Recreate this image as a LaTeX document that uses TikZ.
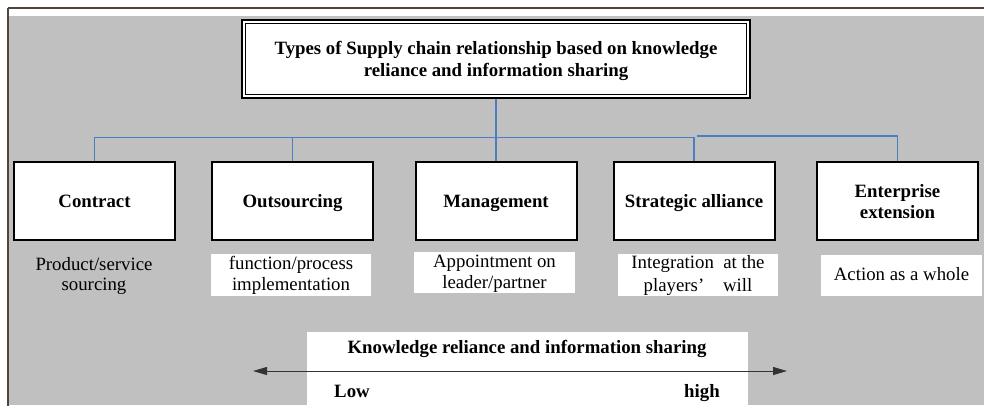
\documentclass[tikz,border=0pt]{standalone}
\usepackage{fontspec}
\setmainfont{Liberation Serif}
\usetikzlibrary{arrows.meta}
\definecolor{bggray}{RGB}{192,192,192}
\definecolor{frameline}{RGB}{78,68,62}
\definecolor{busblue}{RGB}{74,126,196}
\tikzset{
  rg/.style={font=\fontsize{18.8}{22}\selectfont, anchor=base, inner sep=0pt},
  bd/.style={font=\fontsize{18.8}{22}\selectfont\bfseries, anchor=base, inner sep=0pt},
  typebox/.style={draw=black, line width=2pt, fill=white, minimum width=161pt, minimum height=78pt, inner sep=0pt},
  descbox/.style={fill=white, inner sep=0pt},
  bus/.style={draw=busblue, line width=1.4pt},
  axis/.style={draw=black!80, line width=1pt, {Triangle[length=14pt,width=8pt]}-{Triangle[length=14pt,width=8pt]}}
}
\begin{document}
\begin{tikzpicture}[x=1pt,y=-1pt]
\useasboundingbox (0,0) rectangle (984,410);
\fill[white] (0,0) rectangle (984,410);
% background panel
\fill[bggray] (9,15.5) rectangle (984,405);
\draw[frameline, line width=2pt] (7.5,7.5) -- (984,7.5);
\draw[frameline, line width=2pt] (7.5,7.5) -- (7.5,406);
% title
\node[draw=black, line width=2pt, fill=white, minimum width=508pt, minimum height=78pt, inner sep=0pt] (title) at (496,59) {};
\draw[black, line width=1.1pt] ([xshift=4.5pt,yshift=-4.5pt]title.north west) rectangle ([xshift=-4.5pt,yshift=4.5pt]title.south east);
\node[bd] (titleA) at (496,54) {Types of Supply chain relationship based on knowledge};
\node[bd] (titleB) at (496,76) {reliance and information sharing};
% type boxes
\node[typebox] (c1) at (94.5,201) {};
\node[typebox] (c2) at (292.5,201) {};
\node[typebox] (c3) at (496,201) {};
\node[typebox] (c4) at (694,201) {};
\node[typebox] (c5) at (897.5,201) {};
\node[bd] (c1t) at (94.5,207) {Contract};
\node[bd] (c2t) at (292.5,207) {Outsourcing};
\node[bd] (c3t) at (496,207) {Management};
\node[bd] (c4t) at (694,207) {Strategic alliance};
\node[bd] (c5ta) at (897.5,197) {Enterprise};
\node[bd] (c5tb) at (897.5,218) {extension};
% connectors
\coordinate (busy) at (0,137.5);
\coordinate (busb) at (697,136);
\draw[bus] (title.south) -- (c3.north);
\draw[bus] (c1.north) -- (c1.north |- busy) -| (c4.north);
\draw[bus] (c2.north) -- (c2.north |- busy);
\draw[bus] (busb) -| (c5.north);
% descriptions
\node[descbox, minimum width=160pt, minimum height=42pt] (d2) at (291,275) {};
\node[descbox, minimum width=161pt, minimum height=41pt] (d3) at (494.5,272.5) {};
\node[descbox, minimum width=160pt, minimum height=42pt] (d4) at (698,275) {};
\node[descbox, minimum width=161pt, minimum height=41pt] (d5) at (901.5,275.5) {};
\node[rg] (d1a) at (94,270) {Product/service};
\node[rg] (d1b) at (94,290) {sourcing};
\node[rg] (d2a) at (291,269.5) {function/process};
\node[rg] (d2b) at (291,290) {implementation};
\node[rg] (d3a) at (494.5,267) {Appointment on};
\node[rg] (d3b) at (494.5,288) {leader/partner};
\node[rg] (d4a) at (698,268.5) {Integration\ \ at the};
\node[rg] (d4b) at (698,291) {players'\ \ \ \ will};
\node[rg] (d5a) at (901.5,280) {Action as a whole};
% bottom scale
\node[fill=white, minimum width=441pt, minimum height=73pt, inner sep=0pt] (scalebox) at (527.5,368.5) {};
\node[bd] (scaletitle) at (527,353.5) {Knowledge reliance and information sharing};
\coordinate (lowend) at (253,371);
\coordinate (highend) at (787,371);
\draw[axis] (lowend) -- (highend);
\node[bd] (low) at (352,397.5) {Low};
\node[bd] (high) at (702,397.5) {high};
\end{tikzpicture}
\end{document}
